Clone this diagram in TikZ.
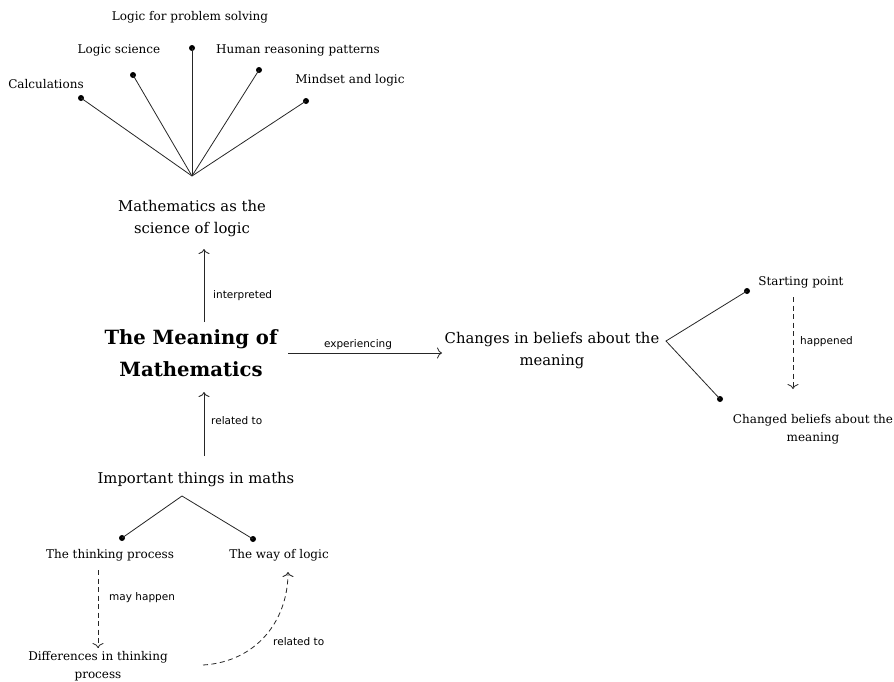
\documentclass[tikz,border=0pt]{standalone}
\usepackage{fontspec}
\setmainfont{DejaVu Serif}
\newfontfamily\notefont{DejaVu Sans}
\usetikzlibrary{arrows.meta}
\begin{document}
\begin{tikzpicture}[x=1pt,y=-1pt,
  bigconcept/.style={font=\fontsize{14.8}{22}\selectfont, align=center, inner sep=1pt},
  mainconcept/.style={font=\fontsize{19.6}{32}\selectfont\bfseries, align=center, inner sep=1pt},
  leaf/.style={font=\fontsize{12}{18}\selectfont, align=center, inner sep=1pt},
  note/.style={font=\notefont\fontsize{10.5}{12}\selectfont, inner sep=1pt},
  dot/.style={circle, fill=black, inner sep=0pt, minimum size=6pt},
  link/.style={draw=black!85, line width=0.8pt},
  rel/.style={draw=black!85, line width=0.8pt, -{To[length=5pt,width=11pt]}},
  drel/.style={rel, dashed, dash pattern=on 5pt off 3.5pt}]
\useasboundingbox (0,0) rectangle (894,681);

% top fan: mathematics as logic
\node[leaf] (lps) at (190,17) {Logic for problem solving};
\node[leaf] (ls)  at (119,50) {Logic science};
\node[leaf] (hrp) at (298,50) {Human reasoning patterns};
\node[leaf] (calc) at (46,84) {Calculations};
\node[leaf] (mal) at (350,80) {Mindset and logic};
\node[dot] (dlps) at (192,48) {};
\node[dot] (dls)  at (133,75) {};
\node[dot] (dhrp) at (259,70) {};
\node[dot] (dcalc) at (81,98) {};
\node[dot] (dmal) at (306,101) {};
\coordinate (hubtop) at (192,176);
\foreach \d in {dlps,dls,dhrp,dcalc,dmal}
  \draw[link] (\d.center) -- (hubtop);
\node[bigconcept] (msl) at (192,219) {Mathematics as the\\science of logic};

% central concept
\node[mainconcept] (mom) at (191,353) {The Meaning of\\Mathematics};
\coordinate (a1) at (204,322);
\coordinate (a2) at (204,249);
\draw[rel] (a1) -- (a2);
\node[note, anchor=west] (interp) at (212,296) {interpreted};

% changes in beliefs
\node[bigconcept] (cib) at (552,351) {Changes in beliefs about the\\meaning};
\coordinate (e1) at (288,353);
\coordinate (e2) at (442,353);
\draw[rel] (e1) -- (e2);
\node[note] (exp) at (358,345) {experiencing};
\coordinate (hubright) at (666,341);
\node[dot] (dsp) at (747,291) {};
\node[dot] (dcb) at (720,399) {};
\draw[link] (dsp.center) -- (hubright) -- (dcb.center);
\node[leaf] (sp) at (801,282) {Starting point};
\node[leaf] (cbm) at (813,429) {Changed beliefs about the\\meaning};
\coordinate (h1) at (793,297);
\coordinate (h2) at (793,389);
\draw[drel] (h1) -- (h2);
\node[note, anchor=west] (hap) at (799,342) {happened};

% important things
\node[bigconcept] (itm) at (196,480) {Important things in maths};
\coordinate (r1) at (204,456);
\coordinate (r2) at (204,392);
\draw[rel] (r1) -- (r2);
\node[note, anchor=west] (rel1) at (210,421) {related to};
\coordinate (hubbot) at (182,496);
\node[dot] (dtp) at (122,538) {};
\node[dot] (dwl) at (253,539) {};
\draw[link] (dtp.center) -- (hubbot) -- (dwl.center);
\node[leaf] (tp) at (110,555) {The thinking process};
\node[leaf] (wl) at (279,555) {The way of logic};
\coordinate (m1) at (98,570);
\coordinate (m2) at (98,648);
\draw[drel] (m1) -- (m2);
\node[note, anchor=west] (mh) at (108,598) {may happen};
\node[leaf] (dtp2) at (98,666) {Differences in thinking\\process};
\coordinate (c1) at (203,665);
\coordinate (c2) at (288,572);
\draw[drel] (c1) .. controls (255,662) and (288,622) .. (c2);
\node[note, anchor=west] (rel2) at (272,642) {related to};
\end{tikzpicture}
\end{document}
